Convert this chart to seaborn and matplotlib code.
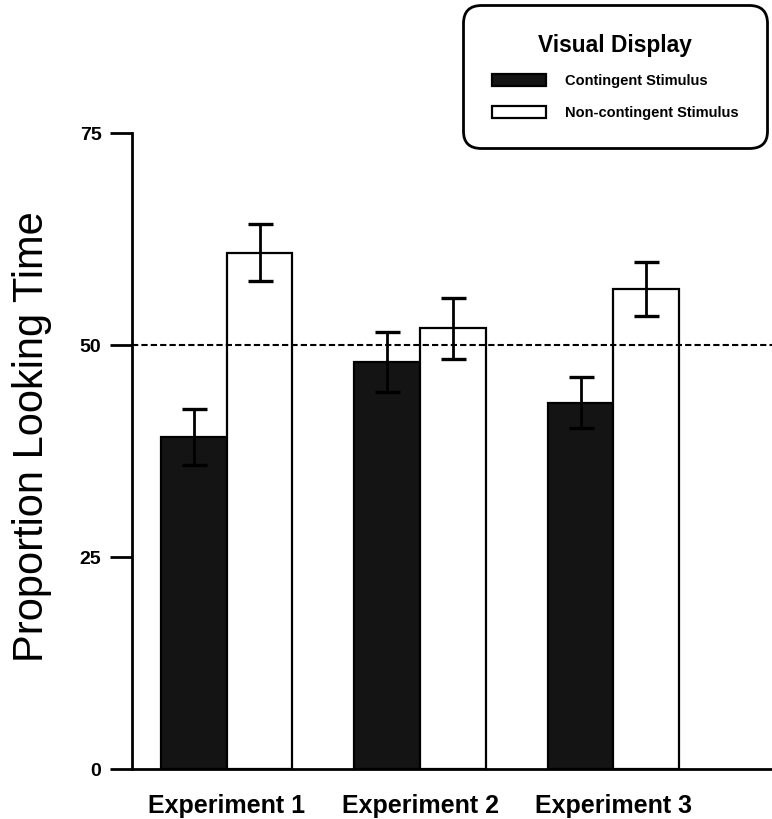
import matplotlib
matplotlib.use("Agg")
import matplotlib.pyplot as plt
import seaborn as sns
import pandas as pd

# Datos
experiments = ["Experiment 1", "Experiment 2", "Experiment 3"]
conditions = ["Contingent Stimulus", "Non-contingent Stimulus"]
contingent = [39.2, 48.0, 43.2]
contingent_se = [3.3, 3.5, 3.0]
noncontingent = [60.9, 52.0, 56.6]
noncontingent_se = [3.4, 3.6, 3.2]
yticks = [0, 25, 50, 75]
chance = 50

sns.set_theme(style="white")
plt.rcParams['font.family'] = ['Liberation Sans', 'DejaVu Sans']
plt.rcParams['text.color'] = 'black'
plt.rcParams['axes.labelcolor'] = 'black'
plt.rcParams['xtick.color'] = 'black'
plt.rcParams['ytick.color'] = 'black'

df = pd.DataFrame({
    'Experiment': experiments * 2,
    'Condition': [conditions[0]] * 3 + [conditions[1]] * 3,
    'Value': contingent + noncontingent,
})
errors = [contingent_se, noncontingent_se]

fig = plt.figure(figsize=(7.72, 8.19), dpi=100)
ax = fig.add_axes([132 / 772, 50 / 819, 640 / 772, 636 / 819])

sns.barplot(data=df, x='Experiment', y='Value', hue='Condition',
            palette=['#141414', 'white'], width=0.68, edgecolor='black',
            linewidth=1.6, saturation=1, errorbar=None, ax=ax)

# barras de error encima de cada barra
for cont, err in zip(ax.containers, errors):
    xs = [b.get_x() + b.get_width() / 2 for b in cont]
    ys = [b.get_height() for b in cont]
    ax.errorbar(xs, ys, yerr=err, fmt='none', ecolor='black',
                elinewidth=2, capsize=9, capthick=2.4, zorder=5)

ax.axhline(chance, color='black', lw=1.5, ls=(0, (3, 1.5)), zorder=4)

ax.set_xlim(-0.49, 2.82)
ax.set_ylim(0, 75)
ax.set_yticks(yticks)
ax.set_yticklabels([str(t) for t in yticks], fontsize=14, fontweight='bold')
for lab in ax.get_xticklabels():
    lab.set_fontsize(18)
    lab.set_fontweight('bold')
ax.tick_params(axis='y', length=16, width=2, color='black', pad=6, left=True)
ax.tick_params(axis='x', length=0, pad=18)
sns.despine(ax=ax)
for s in ['left', 'bottom']:
    ax.spines[s].set_linewidth(2)
    ax.spines[s].set_color('black')

ax.set_xlabel('')
ax.set_ylabel('Proportion Looking Time', fontsize=30)
ax.yaxis.set_label_coords(-0.125, 0.522)

handles, labels = ax.get_legend_handles_labels()
leg = ax.legend(handles, labels, title='Visual Display',
                loc='upper right', bbox_to_anchor=(774 / 772, 1 + 2 / 819),
                bbox_transform=fig.transFigure,
                prop={'size': 10.5, 'weight': 'bold'},
                title_fontproperties={'size': 16.4, 'weight': 'bold'},
                handlelength=3.7, handleheight=0.9, handletextpad=1.3,
                labelspacing=1.2, borderpad=1.95, fancybox=True,
                framealpha=1, edgecolor='black')
leg.get_frame().set_linewidth(2)
leg.get_frame().set_boxstyle('round,pad=0,rounding_size=1.2')

fig.savefig('out.png', dpi=100)
